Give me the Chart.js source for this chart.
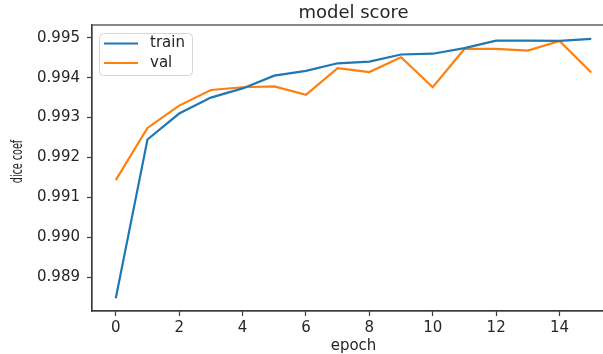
<!DOCTYPE html>
<html>
<head>
<meta charset="utf-8">
<script src="https://cdn.jsdelivr.net/npm/chart.js@4"></script>
<style>
html,body{margin:0;padding:0;background:#fff;overflow:hidden;}
#wrap{width:630px;height:354px;position:relative;}
</style>
</head>
<body>
<div id="wrap"><canvas id="c" width="630" height="354"></canvas></div>
<script>
const epochs = [0,1,2,3,4,5,6,7,8,9,10,11,12,13,14,15];
const trainScore = [0.98847,0.99245,0.99310,0.99350,0.99373,0.99405,0.99417,0.99436,0.99440,0.99458,0.99460,0.99474,0.99493,0.99493,0.99492,0.99497];
const valScore = [0.99143,0.99274,0.99330,0.99369,0.99376,0.99378,0.99357,0.99424,0.99414,0.99451,0.99376,0.99472,0.99472,0.99468,0.99492,0.99413];
const xTicks = [0,2,4,6,8,10,12,14];
const yTicks = [0.989,0.990,0.991,0.992,0.993,0.994,0.995];
const titleText = 'model score';
const xLabel = 'epoch';
const yLabel = 'dice coef';

const FONT = 'DejaVu Sans';
const TXT = '#262626';
const AX = '#3a3a3a';

const frameAndTitle = {
  id: 'frameAndTitle',
  afterDraw(chart) {
    const {ctx, chartArea: a} = chart;
    ctx.save();
    ctx.strokeStyle = AX;
    ctx.lineWidth = 1.2;
    ctx.strokeRect(a.left, a.top, a.right - a.left, a.bottom - a.top);
    // title centered on axes
    ctx.fillStyle = TXT;
    ctx.font = '18px "' + FONT + '"';
    ctx.textAlign = 'center';
    ctx.textBaseline = 'middle';
    ctx.fillText(titleText, (a.left + a.right) / 2, 13);
    // y axis label (narrow, as in the reference)
    ctx.save();
    ctx.translate(18, 161.5);
    ctx.rotate(-Math.PI / 2);
    ctx.scale(0.64, 1);
    ctx.font = '15px "' + FONT + '"';
    ctx.fillText(yLabel, 0, 0);
    ctx.restore();
    // legend
    const lx = 99.5, ly = 33.5, lw = 93, lh = 42, r = 4;
    ctx.beginPath();
    ctx.moveTo(lx + r, ly);
    ctx.arcTo(lx + lw, ly, lx + lw, ly + lh, r);
    ctx.arcTo(lx + lw, ly + lh, lx, ly + lh, r);
    ctx.arcTo(lx, ly + lh, lx, ly, r);
    ctx.arcTo(lx, ly, lx + lw, ly, r);
    ctx.closePath();
    ctx.fillStyle = 'rgba(255,255,255,0.8)';
    ctx.fill();
    ctx.strokeStyle = '#d6d6d6';
    ctx.lineWidth = 1;
    ctx.stroke();
    const rows = [43.5, 63];
    chart.data.datasets.forEach((ds, i) => {
      ctx.strokeStyle = ds.borderColor;
      ctx.lineWidth = 2.2;
      ctx.beginPath();
      ctx.moveTo(104, rows[i]);
      ctx.lineTo(138, rows[i]);
      ctx.stroke();
      ctx.fillStyle = TXT;
      ctx.font = '15px "' + FONT + '"';
      ctx.textAlign = 'left';
      ctx.textBaseline = 'middle';
      ctx.fillText(ds.label, 150, rows[i]);
    });
    ctx.restore();
  }
};

new Chart(document.getElementById('c'), {
  type: 'line',
  data: {
    datasets: [
      {label: 'train', data: epochs.map((e, i) => ({x: e, y: trainScore[i]})), borderColor: '#1f77b4', borderWidth: 2.2, pointRadius: 0, tension: 0, fill: false},
      {label: 'val', data: epochs.map((e, i) => ({x: e, y: valScore[i]})), borderColor: '#ff7f0e', borderWidth: 2.2, pointRadius: 0, tension: 0, fill: false}
    ]
  },
  options: {
    responsive: false,
    animation: false,
    events: [],
    layout: {padding: {top: 25, right: 15, left: 0, bottom: 0}},
    plugins: {legend: {display: false}, title: {display: false}, tooltip: {enabled: false}},
    scales: {
      x: {
        type: 'linear', min: -0.75, max: 15.75,
        afterBuildTicks: s => { s.ticks = xTicks.map(v => ({value: v})); },
        afterFit: s => { s.height = 43; },
        grid: {drawOnChartArea: false, drawTicks: true, tickLength: 5, color: AX, tickWidth: 1.2},
        border: {display: true, color: AX, width: 1.2},
        ticks: {color: TXT, font: {family: FONT, size: 15}, padding: 3, maxRotation: 0, callback: v => String(v)},
        title: {display: true, text: xLabel, color: TXT, font: {family: FONT, size: 15}, padding: {top: 0, bottom: -1}}
      },
      y: {
        type: 'linear', min: 0.98815, max: 0.99532,
        afterBuildTicks: s => { s.ticks = yTicks.map(v => ({value: v})); },
        afterFit: s => { s.width = 92; },
        grid: {drawOnChartArea: false, drawTicks: true, tickLength: 5, color: AX, tickWidth: 1.2},
        border: {display: true, color: AX, width: 1.2},
        ticks: {color: TXT, font: {family: FONT, size: 15}, padding: 7, callback: v => v.toFixed(3)},
        title: {display: false, text: yLabel}
      }
    }
  },
  plugins: [frameAndTitle]
});
</script>
</body>
</html>
